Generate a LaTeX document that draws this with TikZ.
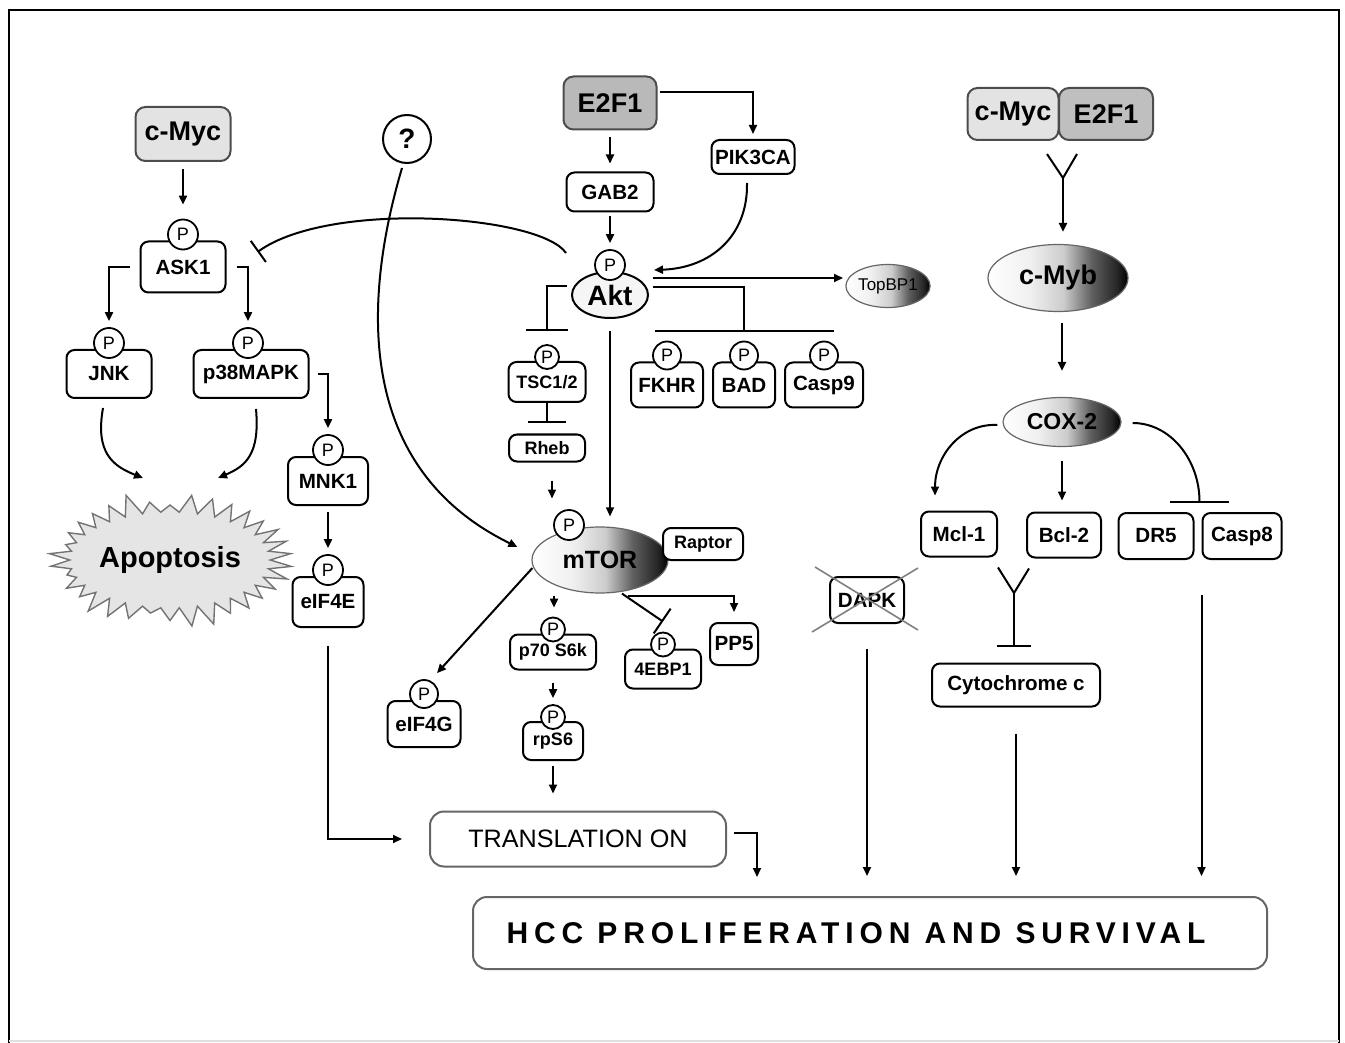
\documentclass[tikz,border=0pt]{standalone}
\usepackage{fontspec}
\setmainfont{Liberation Sans}
\usetikzlibrary{shapes.geometric,shapes.symbols,arrows.meta,positioning}

\pgfdeclarehorizontalshading{blobshade}{100bp}{color(0bp)=(white); color(25bp)=(white); color(40bp)=(gray!12); color(52bp)=(gray!40); color(62bp)=(gray!75!black); color(71bp)=(black!85); color(75bp)=(black); color(100bp)=(black)}

\tikzset{
  prot/.style={draw, rounded corners=4pt, line width=1pt, fill=white, inner sep=1pt,
    font=\bfseries\fontsize{10.3}{12}\selectfont},
  smallprot/.style={prot, font=\bfseries\fontsize{9}{11}\selectfont},
  bigprot/.style={prot, draw=black!70, rounded corners=5pt, font=\bfseries\fontsize{13.5}{16}\selectfont},
  phos/.style={circle, draw, fill=white, line width=0.9pt, inner sep=0pt,
    minimum size=14pt, font=\fontsize{9}{9}\selectfont},
  blob/.style={ellipse, draw=black!60, line width=0.6pt, shade, shading=blobshade, inner sep=1pt},
  act/.style={line width=1pt, -{Triangle[length=4.5pt,width=4pt]}},
  inh/.style={line width=1pt, -{Bar[width=#1]}},
  outbox/.style={draw=black!60, rounded corners=7pt, line width=1pt},
}

\begin{document}
\begin{tikzpicture}[x=0.5pt, y=-0.5pt]
\useasboundingbox (0,0) rectangle (1345,1043);
% frame
\draw[line width=1.3pt] (9,1043) -- (9,10) -- (1339,10) -- (1339,1043);
\draw[gray!25, line width=0.6pt] (9,1041) -- (1339,1041);

% c-Myc / ASK1 branch
\node[bigprot, fill=gray!22, minimum width=47.5pt, minimum height=27pt] (cmyc) at (183,134) {c-Myc};
\node[prot, minimum width=42.5pt, minimum height=25.5pt] (ask1) at (183,267) {ASK1};
\node[phos, minimum size=15pt] (ask1p) at ([yshift=3pt]ask1.north) {P};
\node[prot, minimum width=42.5pt, minimum height=24pt] (jnk) at (109,374) {JNK};
\node[phos, minimum size=15pt] (jnkp) at ([yshift=3pt]jnk.north) {P};
\node[prot, minimum width=57.5pt, minimum height=24pt] (p38) at (251,374) {p38MAPK};
\node[phos, minimum size=15pt] (p38p) at ([shift={(-3,-6)}]p38.north) {P};
\node[prot, minimum width=40pt, minimum height=24pt] (mnk1) at (328,481) {MNK1};
\node[phos, minimum size=15pt] (mnk1p) at ([yshift=3pt]mnk1.north) {P};
\node[prot, minimum width=35.5pt, minimum height=25pt] (eif4e) at (328,602) {eIF4E};
\node[phos, minimum size=15pt] (eif4ep) at ([yshift=3pt]eif4e.north) {P};

% Apoptosis
\node[starburst, starburst points=34, starburst point height=11pt, random starburst=3,
  fill=gray!20, draw=black!55, line width=0.7pt, inner sep=0pt, minimum width=91pt, minimum height=70pt,
  font=\bfseries\fontsize{14.5}{16}\selectfont] (apop) at (170,560) {Apoptosis};

\draw[act, shorten <=3.5pt, shorten >=7pt] (cmyc) -- (ask1p);
\draw[act, shorten >=3pt] ([xshift=-5pt]ask1.west) -| (jnkp.north);
\draw[act, shorten >=3pt] ([xshift=5pt]ask1.east) -| (p38p.north);
\draw[act, shorten >=3pt] ([xshift=4pt]p38.east) -| (mnk1p.north);
\draw[act, shorten <=3pt, shorten >=3pt] (mnk1) -- (mnk1 |- eif4ep.north);
\draw[act] ([shift={(-6,9)}]jnk.south) .. controls +(-8,45) and +(-30,-12) .. ([shift={(-27,-82)}]apop.center);
\draw[act] ([shift={(5,10)}]p38.south) .. controls +(4,45) and +(28,-12) .. ([shift={(48,-82)}]apop.center);

% E2F1 / Akt
\node[bigprot, fill=gray!55, minimum width=46.5pt, minimum height=26.5pt] (e2f1) at (610,103) {E2F1};
\node[prot, minimum width=41.5pt, minimum height=17pt] (pik3ca) at (753,157) {PIK3CA};
\node[prot, minimum width=43.5pt, minimum height=19.5pt] (gab2) at (610,192) {GAB2};
\node[ellipse, draw, line width=1pt, fill=gray!8, inner sep=1pt, minimum width=38pt, minimum height=23pt,
  font=\bfseries\fontsize{14}{14}\selectfont] (akt) at (610,295) {Akt};
\node[phos, minimum size=15pt] (aktp) at ([yshift=3pt]akt.north) {P};
\node[blob, minimum width=40pt, minimum height=21.5pt, inner sep=0pt, font=\fontsize{8.5}{9}\selectfont] (topbp1) at (888,286) {TopBP1};

\draw[act, shorten >=2.5pt] ([shift={(2,-11)}]e2f1.east) -| (pik3ca.north);
\draw[act, shorten <=3.5pt, shorten >=4pt] (e2f1) -- (gab2);
\draw[act, shorten <=1.75pt, shorten >=3pt] (gab2) -- (aktp);
\draw[act] ([shift={(-6,8)}]pik3ca.south) .. controls +(1,53) and +(57,-2) .. ([shift={(5,-25)}]akt.east);

% Akt targets
\node[smallprot, minimum width=38.5pt, minimum height=20pt] (tsc) at (547,382) {TSC1/2};
\node[phos, minimum size=12pt] (tscp) at ([yshift=2pt]tsc.north) {P};
\node[prot, minimum width=36pt, minimum height=22.5pt] (fkhr) at (667,385) {FKHR};
\node[phos] (fkhrp) at ([yshift=3pt]fkhr.north) {P};
\node[prot, minimum width=31pt, minimum height=22.5pt] (bad) at (744,385) {BAD};
\node[phos] (badp) at ([yshift=3pt]bad.north) {P};
\node[prot, minimum width=39pt, minimum height=22.5pt] (casp9) at (824,385) {Casp9};
\node[phos] (casp9p) at ([yshift=3pt]casp9.north) {P};
\node[smallprot, minimum width=38pt, minimum height=13.5pt] (rheb) at (547,448) {Rheb};

\draw[act] ([shift={(4,-17)}]akt.east) -- ++(190,0);
\draw[inh=89.5pt] ([shift={(4,-8)}]akt.east) -| ([yshift=4.5pt]badp.north);
\draw[inh=21pt] ([shift={(-4,-9)}]akt.west) -| ([yshift=6.5pt]tscp.north);
\draw[inh=19pt, shorten >=5pt] (tsc.south) -- (tsc.south |- rheb.north);
\draw[inh=13pt] ([shift={(-5,-42)}]akt.west) .. controls (540,215) and (330,200) .. ([shift={(31,-15)}]ask1.east);

% mTOR
\node[blob, minimum width=68pt, minimum height=33pt, font=\bfseries\fontsize{12.5}{14}\selectfont] (mtor) at (600,560) {mTOR};
\node[phos, minimum size=15pt] (mtorp) at ([shift={(-31,-35)}]mtor.center) {P};
\node[smallprot, minimum width=40pt, minimum height=16pt] (raptor) at (703,544) {Raptor};
\node[prot, minimum width=36.5pt, minimum height=23pt] (eif4g) at (424,724) {eIF4G};
\node[phos] (eif4gp) at ([yshift=3pt]eif4g.north) {P};
\node[smallprot, minimum width=43pt, minimum height=17.5pt] (p70) at (553,652) {p70 S6k};
\node[phos, minimum size=12pt] (p70p) at ([yshift=2pt]p70.north) {P};
\node[smallprot, minimum width=30pt, minimum height=19pt] (rps6) at (553,741) {rpS6};
\node[phos, minimum size=12pt] (rps6p) at ([yshift=2pt]rps6.north) {P};
\node[smallprot, minimum width=38pt, minimum height=19.5pt] (ebp) at (663,669) {4EBP1};
\node[phos, minimum size=12pt] (ebpp) at ([yshift=2pt]ebp.north) {P};
\node[prot, minimum width=24pt, minimum height=21pt] (pp5) at (734,644) {PP5};

% question mark
\node[circle, draw, line width=1pt, minimum size=24pt, inner sep=0pt,
  font=\bfseries\fontsize{14}{14}\selectfont] (qmark) at (407,139) {?};
\draw[act] ([shift={(-5,4)}]qmark.south) .. controls (360,310) and (360,470) .. ([shift={(-14,-13)}]mtor.west);

\draw[act, line width=0.6pt, shorten <=6pt, shorten >=5pt] (akt.south) -- (akt.south |- mtor.north);
\draw[act] ([shift={(5,18)}]rheb.south) -- ++(0,18);
\draw[act] ([shift={(1,8)}]mtor.west) -- ([shift={(13,-6)}]eif4gp.north);
\draw[act] ([shift={(-46,2)}]mtor.south) -- ++(0,12);
\draw[act, shorten <=6pt, shorten >=3pt] (p70) -- (p70 |- rps6p.north);
\draw[inh=15pt] ([shift={(22,0)}]mtor.south) -- ([yshift=5pt]ebpp.north);
\draw[act] ([shift={(28,2)}]mtor.south) -| ([yshift=5pt]pp5.north);

% translation and output
\node[outbox, minimum width=148pt, minimum height=27.5pt, font=\fontsize{12.6}{14}\selectfont] (trans) at (578,839) {TRANSLATION ON};
\node[outbox, minimum width=397pt, minimum height=36pt] (hcc) at (870,933) {};
\node[font=\bfseries\fontsize{15}{18}\selectfont\addfontfeature{LetterSpace=19.5}] (hcclabel) at ([xshift=-7pt]hcc.center) {HCC PROLIFERATION AND SURVIVAL};

\draw[act, shorten <=9pt, shorten >=13.5pt] (eif4e.south) |- (trans.west);
\draw[act, shorten <=2.5pt, shorten >=8.5pt] (rps6.south) -- (rps6.south |- trans.north);
\draw[act] ([shift={(7,-6)}]trans.east) -| ++(23,44);

% c-Myc / E2F1 -> c-Myb -> COX-2
\node[bigprot, fill=gray!22, minimum width=45.5pt, minimum height=26pt] (cmycR) at (1013,114) {c-Myc};
\node[bigprot, fill=gray!50, minimum width=47pt, minimum height=26pt] (e2f1R) at (1106,114) {E2F1};
\node[blob, minimum width=70pt, minimum height=33.5pt, font=\bfseries\fontsize{13.5}{16}\selectfont] (cmyb) at (1058,278) {c-Myb};
\node[blob, minimum width=59pt, minimum height=24.5pt, font=\bfseries\fontsize{11.5}{13}\selectfont] (cox2) at (1062,422) {COX-2};

\coordinate (yjoin) at ([shift={(3.5,37)}]cmycR.south east);
\draw[line width=1pt] ([shift={(-12.5,13)}]cmycR.south east) -- (yjoin) -- ([shift={(19,13)}]e2f1R.south west);
\draw[act, shorten >=6pt] (yjoin) -- (yjoin |- cmyb.north);
\draw[act, shorten <=5.5pt, shorten >=13pt] (cox2.north |- cmyb.south) -- (cox2.north);

% COX-2 targets
\node[prot, minimum width=38pt, minimum height=22.5pt] (mcl1) at (959,534) {Mcl-1};
\node[prot, minimum width=37pt, minimum height=22.5pt] (bcl2) at (1064,535) {Bcl-2};
\node[prot, minimum width=37.5pt, minimum height=23pt] (dr5) at (1156,536) {DR5};
\node[prot, minimum width=39.5pt, minimum height=23pt] (casp8) at (1242,536) {Casp8};
\node[prot, minimum width=37pt, minimum height=23pt] (dapk) at (867,600) {DAPK};
\node[prot, minimum width=84pt, minimum height=21.5pt] (cyto) at (1016,685) {Cytochrome c};

\draw[gray, line width=0.8pt] ([shift={(-55,32)}]dapk.center) -- ([shift={(51,-32)}]dapk.center);
\draw[gray, line width=0.8pt] ([shift={(-52,-33)}]dapk.center) -- ([shift={(51,30)}]dapk.center);

\draw[act] ([shift={(-5,3)}]cox2.west) .. controls +(-36,-2) and +(0,-40) .. ([shift={(-24,-15)}]mcl1.north);
\draw[act, shorten <=7pt, shorten >=5.5pt] (cox2.south) -- (cox2.south |- bcl2.north);
\draw[inh=29.5pt] ([shift={(11,1)}]cox2.east) .. controls +(38,0) and +(0,-43) .. ([shift={(-2,-9)}]casp8.north west);

\coordinate (yjoin2) at ([shift={(16,35.5)}]mcl1.south east);
\draw[line width=1pt] ([yshift=-5pt]mcl1.south east) -- (yjoin2) -- ([shift={(3,10)}]bcl2.south west);
\draw[inh=17pt, shorten >=8pt] (yjoin2) -- (yjoin2 |- cyto.north);

\draw[act, shorten <=12.5pt, shorten >=10pt] (dapk.south) -- (dapk.south |- hcc.north);
\draw[act, shorten <=13pt, shorten >=10pt] (cyto.south) -- (cyto.south |- hcc.north);
\draw[act, shorten <=17.5pt, shorten >=10pt] (casp8.south west) -- (casp8.south west |- hcc.north);
\end{tikzpicture}
\end{document}
